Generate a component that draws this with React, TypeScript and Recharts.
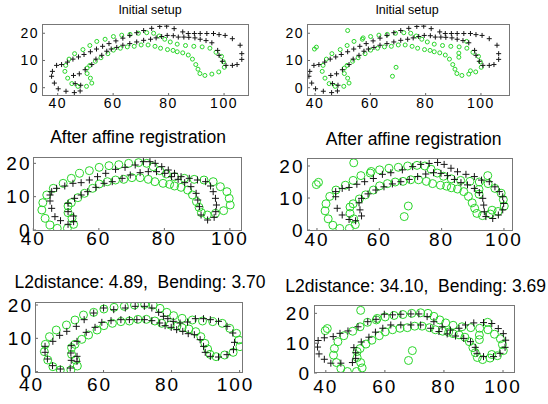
import React from 'react'
import { ScatterChart, Scatter, XAxis, YAxis } from 'recharts'

const xTicks = [40, 60, 80, 100]
const yTicks = [0, 10, 20]

// green target shape, shared by all panels
const targetFish: [number, number][] = [
  [42.9, 8.2], [44.1, 10.5], [46.1, 12.5], [49.1, 14], [51.6, 15.5], [54.1, 17], [57.1, 17.8], [60.1, 18.8],
  [63.1, 19.3], [66.1, 19.6], [69.1, 20], [72.1, 20.2], [74.6, 20], [76.6, 19], [78.6, 17.8], [80.6, 16.8],
  [83.1, 16], [86.1, 15.5], [89.1, 15.2], [92.1, 15], [94.9, 14.5], [97.1, 13], [99.1, 11.5], [99.8, 9.5],
  [100.1, 7.5], [98.1, 5.8], [95.6, 5], [93.1, 4.5], [91.3, 5.2], [90.6, 6.8], [89.8, 8.5], [88.6, 10.5],
  [87.1, 12], [85.1, 12.8], [83.1, 13.2], [81.6, 13.7], [79.6, 14], [77.1, 14.5], [75.1, 15.2], [72.6, 15.7],
  [70.1, 15.7], [67.6, 15.2], [65.1, 15], [62.6, 14.5], [60.1, 13.8], [58.1, 12.5], [55.6, 11], [53.6, 9.7],
  [51.6, 8.2], [50.6, 7.2], [50.6, 5.2], [51.8, 3.5], [52.3, 1.7], [50.4, 0.5], [47.3, 0.5], [45.1, 1.5],
  [43.6, 3.5], [42.6, 6],
]

// extra green points in the right column
const outliers: [number, number][] = [
  [39.8, 14.2], [40.5, 14.9], [51.8, 21], [68, 4.2], [69.3, 7.5], [92, 12.7], [92, 11.2], [94.8, 17],
  [57.4, 18.3], [96.2, 6.2],
]

// black "+" before registration
const startFish: [number, number][] = [
  [39.6, 8.2], [41.4, 8.5], [43.5, 9.4], [45.5, 10.5], [47.5, 11.3], [49.5, 12.2], [51.8, 13.2], [54, 14.2],
  [56.2, 15.2], [58.5, 16.2], [61, 17.2], [63.5, 18.2], [66, 19.2], [68.5, 20.2], [71, 21], [73.9, 21.8],
  [76.8, 22.5], [79.3, 22.6], [82, 21.7], [85.1, 20.5], [87.1, 19.9], [89.3, 19.9], [91.4, 19.9], [93.8, 19.9],
  [96.2, 19.9], [98.2, 19.5], [100.4, 19.2], [103, 18], [105.8, 15.6], [106.4, 12.5], [106.4, 10.4], [104.7, 8.5],
  [103, 8.2], [100.7, 8.2], [99.4, 9.7], [98.2, 11.9], [97.7, 13.7], [95.6, 16.5], [93.5, 17.3], [91.4, 17.8],
  [89.5, 18.3], [87.3, 18.5], [85.5, 18.6], [83.5, 18.6], [81.7, 19.1], [79.5, 19.2], [77.5, 18.8], [75.5, 18.3],
  [73.5, 17.8], [71, 17.4], [68.5, 16.8], [66, 16.2], [63.5, 15.6], [61.3, 14.8], [59.3, 14.2], [57.7, 13.4],
  [55.9, 11.9], [53.8, 10.5], [52.3, 8.5], [49.9, 6.6], [47.8, 5.1], [45.7, 4.5], [46.3, 1.5], [48.3, 0.9],
  [48.1, -1.2], [46, -1.8], [43, -1.3], [40.2, -0.4], [38.8, 1.7], [37.8, 4.2], [38.1, 6.0],
]

const affineLeft: [number, number][] = [
  [45.1, 10.5], [45.1, 8.7], [45.6, 6.5], [46.6, 4], [48.3, 2.8], [50.6, 1.7], [52.3, 2.5], [52.3, 4.2],
  [50.6, 5.5], [50.6, 8], [52.6, 9.5], [54.6, 10.5], [56.6, 11.5], [59.1, 12.8], [61.6, 14], [64.1, 14.5],
  [67.1, 15.5], [69.6, 16.5], [72.6, 17.2], [75.1, 17.5], [77.6, 17.5], [80.1, 17], [82.2, 16], [84.2, 15.2],
  [86.2, 14.2], [88.1, 13], [89.7, 11], [90.2, 9], [90.7, 7], [91.2, 4.5], [93.2, 3], [95.2, 3.8],
  [95.7, 5.5], [95.9, 7.5], [95.6, 9.5], [94.9, 11.5], [94.1, 13.2], [92.6, 14.5], [90.1, 15], [87.6, 15.5],
  [85.1, 16], [83.1, 17], [81.2, 18], [79.2, 19], [77.2, 20], [75.6, 20.5], [73.6, 20.5], [71.1, 19.5],
  [68, 18.8], [65.1, 18.2], [62.1, 17], [59.6, 16], [57.1, 15], [54.6, 14.2], [52.1, 14], [49.6, 13.2],
  [47.1, 12.5], [45.6, 11.5],
]

const affineRight: [number, number][] = [
  [46, 12], [48.1, 13], [50.3, 13.3], [52.8, 14.3], [55.3, 15.1], [58.1, 16.1], [61, 17.4], [63.7, 17.9],
  [67.4, 18.8], [70.7, 19.8], [73.3, 20.5], [76, 20.8], [78.7, 21.1], [80.8, 20.5], [83, 19.3], [85.1, 18.2],
  [87.8, 17.4], [90.5, 16.7], [92.8, 15.6], [95.3, 15.1], [97.1, 13.5], [98.5, 12], [99.6, 10.4], [99.9, 8.3],
  [99.6, 6.3], [98.2, 4.7], [96.4, 3.6], [94.2, 4.2], [93.7, 5.7], [93.5, 7.8], [93.2, 9.9], [92.1, 11.7],
  [90.5, 13], [88.3, 14.1], [86.2, 14.8], [84.1, 15.8], [81.9, 17], [79.8, 17.7], [77.4, 17.9], [74.9, 17.5],
  [72.3, 16.7], [69.6, 15.8], [66.9, 15.1], [64.2, 14.4], [61.5, 13.5], [58.9, 12.5], [56.4, 11.3], [54.3, 9.9],
  [53.5, 8.5], [53.8, 6.3], [54.3, 4.4], [52.4, 2.9], [50.3, 3.3], [48.1, 4.7], [46.5, 6.8], [46, 10.4],
]

const matchedLeft: [number, number][] = [
  [42.8, 7.6], [42.8, 5.8], [43.5, 3.8], [45, 1.8], [47.3, 0.8], [50.2, 1.1], [50.5, 3.4], [50.4, 5.6],
  [50.5, 7.8], [52.2, 9.1], [52.2, 4.6], [52.2, 3.1], [54.9, 11.8], [57.5, 13.3], [59.5, 14.8], [62.2, 15.3],
  [65.1, 15.6], [67.6, 15.6], [69.8, 15.6], [72, 15.6], [74.2, 15.3], [76.5, 14.6], [78.1, 13.8], [79.9, 13.3],
  [81.5, 12.6], [83.3, 12.1], [84.9, 11.4], [86.7, 11.1], [88.4, 9.6], [89.4, 7.6], [89.9, 5.8], [91.4, 4.6],
  [93.8, 4.4], [96.3, 5.1], [98.2, 6.6], [98.5, 8.8], [98, 11.6], [96.3, 13.6], [93.8, 15.1], [91.4, 15.6],
  [89.4, 15.9], [87, 15.9], [84.7, 14.9], [82.5, 14.6], [80.5, 15.1], [78.9, 15.9], [77.6, 16.6], [76.2, 17.8],
  [74.2, 19.1], [72, 19.6], [69.3, 19.6], [66.4, 19.1], [63, 18.6], [60, 19.1], [57.1, 17.6], [54.3, 15.6],
  [52, 13.6], [49.2, 12.1], [47.1, 10.9], [45.1, 9.1],
]

const matchedRight: [number, number][] = [
  [37.4, 10.9], [37.2, 8.7], [37.7, 6.4], [39.5, 4.6], [41.7, 3.3], [45.1, 3.3], [49, 3.5], [50.1, 4.9],
  [50.1, 6.8], [49.5, 8.5], [52, 10.4], [54.6, 12], [56.8, 13.7], [59.3, 15], [62, 16.1], [65.4, 16.1],
  [68.8, 16.1], [72.1, 16.1], [75.5, 15], [78.3, 13.9], [81.1, 13.1], [83.9, 12.4], [86.7, 11.6], [89, 10.5],
  [90.6, 8.6], [91.2, 6.6], [93.4, 5.5], [96.8, 5.5], [99, 6.6], [100.7, 8.6], [100.9, 11], [100.1, 13.2],
  [98.4, 14.9], [96.2, 16.6], [93.4, 16.9], [90.1, 16.8], [87.3, 16.1], [85.1, 15], [82.2, 14.4], [79.4, 15.5],
  [76.6, 17.2], [74.3, 18.9], [71.5, 19.8], [68.8, 19.8], [65.4, 19.7], [62.6, 19.5], [59.8, 19.7], [57, 18],
  [54.2, 17.2], [50.9, 15.5], [47.5, 14.1], [44.8, 13.3], [42.5, 12.2], [39.5, 11.8],
]

const noisyFish = targetFish.concat(outliers)

const FONT = '"Liberation Sans", Arial, Helvetica, sans-serif'
const GREEN = '#2ad62a'
const INK = '#151515'

const toRows = (pts: [number, number][]) => pts.map(([x, y]) => ({ x, y }))

function Panel(p: any) {
  const yw = 44
  const xh = 32
  const padT = 14
  const padR = 30
  const ring = (s: any) => (
    <circle cx={s.cx} cy={s.cy} r={p.r} fill="none" stroke={GREEN} strokeWidth={1} />
  )
  const plus = (s: any) => (
    <path
      d={`M${s.cx - p.ph},${s.cy}H${s.cx + p.ph}M${s.cx},${s.cy - p.ph}V${s.cy + p.ph}`}
      stroke={INK}
      strokeWidth={1}
      fill="none"
    />
  )
  const tick = (dy: string, dx: number) => (t: any) => (
    <text
      x={t.x + dx}
      y={t.y}
      dy={dy}
      textAnchor={t.textAnchor}
      fontSize={p.fs}
      fontFamily={FONT}
      letterSpacing={p.ls}
      fill="#000"
    >
      {t.payload.value}
    </text>
  )
  return (
    <>
      <div style={{ position: 'absolute', left: p.left - yw, top: p.top - padT }}>
        <ScatterChart
          width={p.width + yw + padR}
          height={p.height + xh + padT}
          margin={{ top: padT, right: padR, bottom: 0, left: 0 }}
        >
          <XAxis
            type="number"
            dataKey="x"
            domain={p.xd}
            ticks={xTicks}
            interval={0}
            allowDataOverflow
            height={xh}
            axisLine={false}
            tickSize={-3}
            tickMargin={p.xgap + 3}
            tickLine={{ stroke: '#666' }}
            tick={tick('0.71em', p.dx || 0)}
          />
          <YAxis
            type="number"
            dataKey="y"
            domain={p.yd}
            ticks={yTicks}
            interval={0}
            allowDataOverflow
            width={yw}
            axisLine={false}
            tickSize={-3}
            tickMargin={p.ygap + 3}
            tickLine={{ stroke: '#666' }}
            tick={tick('0.355em', 0)}
          />
          <Scatter data={toRows(p.green)} shape={ring} isAnimationActive={false} />
          <Scatter data={toRows(p.black)} shape={plus} isAnimationActive={false} />
        </ScatterChart>
      </div>
      <div
        style={{
          position: 'absolute',
          left: p.left,
          top: p.top,
          width: p.width,
          height: p.height,
          border: '1px solid #777',
          boxSizing: 'border-box',
          pointerEvents: 'none',
        }}
      />
      <div
        style={{
          position: 'absolute',
          left: p.tx - 150,
          width: 300,
          top: p.ty - 0.49 * p.tfs,
          fontSize: p.tfs,
          lineHeight: 1,
          fontFamily: FONT,
          textAlign: 'center',
          whiteSpace: 'pre',
          color: '#000',
        }}
      >
        {p.title}
      </div>
    </>
  )
}

export default function App() {
  return (
    <div style={{ position: 'absolute', left: 0, top: 0, width: 548, height: 404, background: '#fff', overflow: 'hidden' }}>
      <Panel
        left={42} top={24} width={207} height={72} xd={[34.34, 109]} yd={[-3.05, 23.4]}
        green={targetFish} black={startFish} r={2} ph={2.5} fs={14} ls={1.5} xgap={2} ygap={3}
        title="Initial setup" tfs={12.5} tx={150} ty={10.5}
      />
      <Panel
        left={307} top={24} width={203} height={72} xd={[37.1, 110.5]} yd={[-3.05, 23.4]}
        green={noisyFish} black={startFish} r={2} ph={2.5} fs={14} ls={1.5} xgap={2} ygap={3}
        title="Initial setup" tfs={12.5} tx={407} ty={10.5}
      />
      <Panel
        left={33} top={157} width={209} height={74} xd={[39.9, 103.7]} yd={[-0.3, 21.9]}
        green={targetFish} black={affineLeft} r={4} ph={3.5} fs={19} ls={2} xgap={1} ygap={1.5}
        title="After affine registration" tfs={17.5} tx={138} ty={137.8}
      />
      <Panel
        left={307} top={158} width={206} height={73} xd={[36.8, 102.9]} yd={[-0.3, 22.5]}
        green={noisyFish} black={affineRight} r={4} ph={3.5} fs={19} ls={2} xgap={2} ygap={2.5}
        title="After affine registration" tfs={17.5} tx={413.7} ty={140}
      />
      <Panel
        left={35} top={302} width={208} height={71} xd={[39.85, 101]} yd={[-0.4, 20.9]}
        green={targetFish} black={matchedLeft} r={4} ph={3.5} fs={19} ls={2} xgap={5} ygap={2} dx={-4}
        title="L2distance: 4.89,  Bending: 3.70" tfs={17.5} tx={140} ty={283}
      />
      <Panel
        left={314} top={305} width={201} height={68} xd={[36.0, 104.06]} yd={[0, 22.8]}
        green={noisyFish} black={matchedRight} r={4} ph={3.5} fs={19} ls={2} xgap={7} ygap={3}
        title="L2distance: 34.10,  Bending: 3.69" tfs={17.5} tx={415.7} ty={286.7}
      />
    </div>
  )
}
